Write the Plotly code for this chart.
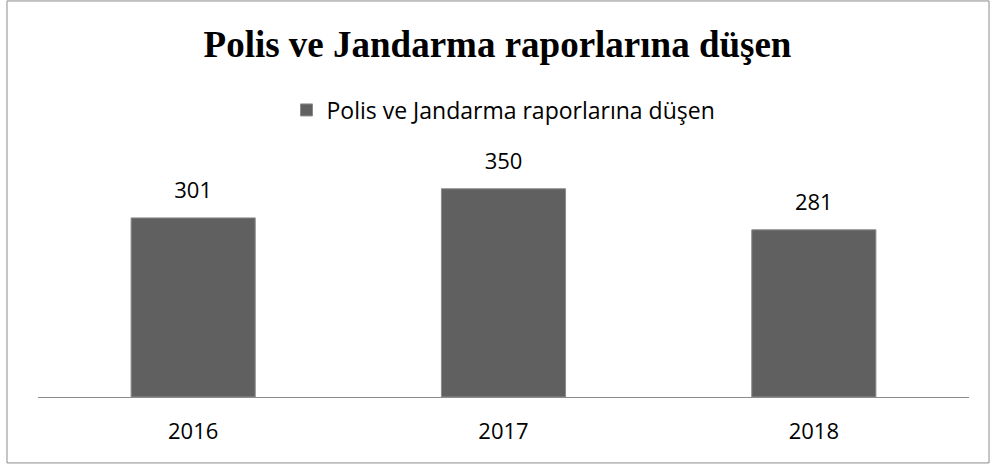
import plotly.graph_objects as go

years = ["2016", "2017", "2018"]
values = [301, 350, 281]
series_name = "Polis ve Jandarma raporlarına düşen"
chart_title = "Polis ve Jandarma raporlarına düşen"

label_font = dict(family="Open Sans, sans-serif", size=22, color="#000000")
legend_font = dict(family="Open Sans, sans-serif", size=23, color="#000000")

fig = go.Figure()
fig.add_trace(
    go.Bar(
        x=years,
        y=values,
        name=series_name,
        marker=dict(color="#606060", line=dict(color="#8c8c8c", width=1)),
        showlegend=True,
    )
)
# value labels above bars (invisible markers push the text up)
fig.add_trace(
    go.Scatter(
        x=years,
        y=values,
        mode="markers+text",
        text=[str(v) for v in values],
        textposition="top center",
        textfont=label_font,
        marker=dict(size=22, opacity=0),
        showlegend=False,
        hoverinfo="skip",
        cliponaxis=False,
    )
)

fig.update_xaxes(
    type="category", automargin=False,
    showline=True, linecolor="#8c8c8c", linewidth=1,
    ticks="outside", ticklen=15, tickcolor="rgba(0,0,0,0)",
    tickfont=label_font, showgrid=False,
)
fig.update_yaxes(range=[0, 400], visible=False, showgrid=False, automargin=False)

# outer chart border
fig.add_shape(
    type="rect", xref="paper", yref="paper",
    x0=-0.0333, x1=1.0215, y0=-0.277, y1=1.664,
    line=dict(color="#8c8c8c", width=1),
)

fig.update_layout(
    width=995, height=466,
    margin=dict(l=38, r=26, t=159, b=69, autoexpand=False),
    plot_bgcolor="white", paper_bgcolor="white",
    bargap=0.6,
    title=dict(
        text="<b>" + chart_title + "</b>", x=0.5, xanchor="center",
        y=0.905, yanchor="middle",
        font=dict(family="Liberation Serif, Times New Roman, serif", size=37, color="#000000"),
    ),
    legend=dict(
        orientation="h", x=0.5, xanchor="center", y=1.206, yanchor="middle",
        font=legend_font,
    ),
)

fig.write_html(
    "out.html",
    config={"displayModeBar": False},
    post_script="document.body.style.margin='0';",
)
